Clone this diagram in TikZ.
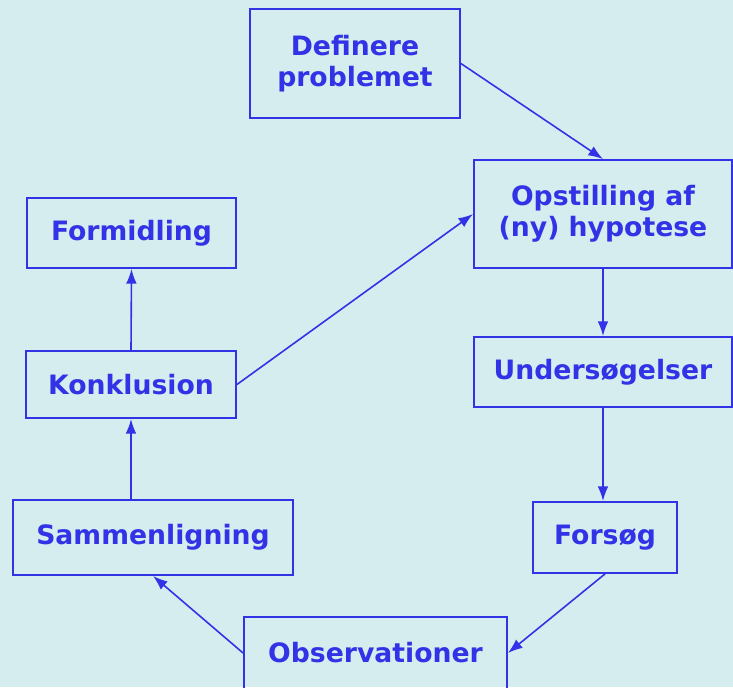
\documentclass[tikz,border=0pt]{standalone}
\usepackage{fontspec}
\setmainfont{DejaVu Sans}
\usepackage{xcolor}
\usetikzlibrary{positioning,arrows.meta,calc}

\definecolor{bgcyan}{RGB}{214,237,239}
\definecolor{stepblue}{RGB}{50,50,230}

\begin{document}
\begin{tikzpicture}[
  x=0.75pt, y=-0.75pt,
  font=\fontsize{20}{23}\selectfont\bfseries,
  box/.style={draw=stepblue, text=stepblue, line width=1.4pt, align=center,
              inner sep=0pt},
  arr/.style={draw=stepblue, line width=1.2pt,
              -{Latex[length=11pt,width=8pt]}}
]
\fill[bgcyan] (0,0) rectangle (733,687);
\useasboundingbox (0,0) rectangle (733,687);

\node[box, minimum width=210*0.75pt, minimum height=109*0.75pt] (def) at (355,63.5) {Definere\\problemet};
\node[box, minimum width=258*0.75pt, minimum height=108*0.75pt] (hyp) at (603,214) {Opstilling af\\(ny) hypotese};
\node[box, minimum width=209*0.75pt, minimum height=70*0.75pt] (form) at (131.5,233) {Formidling};
\node[box, minimum width=210*0.75pt, minimum height=67*0.75pt] (konk) at (131,384.5) {Konklusion};
\node[box, minimum width=258*0.75pt, minimum height=70*0.75pt] (unders) at (603,372) {Undersøgelser};
\node[box, minimum width=280*0.75pt, minimum height=75*0.75pt] (samm) at (153,537.5) {Sammenligning};
\node[box, minimum width=144*0.75pt, minimum height=71*0.75pt] (fors) at (605,537.5) {Forsøg};
\node[box, minimum width=263*0.75pt, minimum height=72*0.75pt] (obs) at (375.5,653) {Observationer};

\draw[arr] (def.east) -- (hyp.north);
\draw[arr] (hyp.south) -- (unders.north);
\draw[arr] (unders.south) -- (unders.south |- fors.north);
\draw[arr] (fors.south) -- (obs.east);
\draw[arr] (obs.west) -- (samm.south);
\draw[arr] (konk.south |- samm.north) -- (konk.south);
\draw[arr] (konk.north) -- (form.south);
\draw[arr] (konk.east) -- (hyp.west);
\end{tikzpicture}
\end{document}
